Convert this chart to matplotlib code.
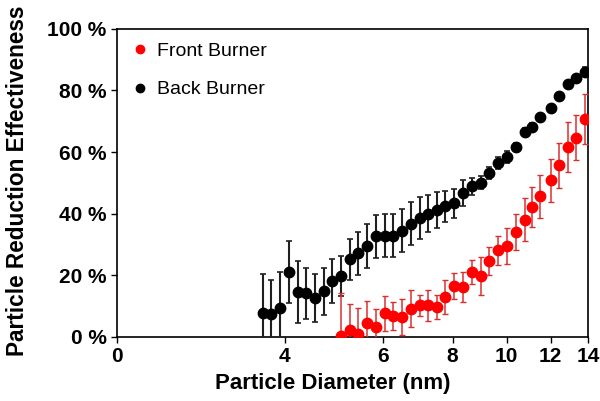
import numpy as np
import matplotlib
matplotlib.use('Agg')
import matplotlib.pyplot as plt
import matplotlib.ticker as ticker
from matplotlib.lines import Line2D

plt.rcParams['font.family'] = ['Liberation Sans', 'DejaVu Sans']

# particle diameters (nm)
d_back = [3.65, 3.78, 3.92, 4.07, 4.22, 4.37, 4.53, 4.70, 4.87, 5.05, 5.23, 5.42, 5.62,
          5.83, 6.04, 6.26, 6.49, 6.73, 6.98, 7.23, 7.50, 7.77, 8.06, 8.35, 8.66, 8.98,
          9.31, 9.65, 10.0, 10.4, 10.8, 11.1, 11.5, 12.0, 12.4, 12.9, 13.3, 13.8]
back = [7.8, 7.3, 9.4, 21.1, 14.5, 14.1, 12.7, 14.8, 18.2, 19.8, 25.2, 27.2, 29.4,
        32.6, 32.9, 32.9, 34.5, 36.7, 38.6, 39.9, 41.2, 42.4, 43.3, 46.7, 48.9, 50.1,
        53.3, 56.5, 58.4, 61.6, 66.5, 68.1, 71.3, 74.3, 78.1, 82.0, 84.0, 86.1]
back_err = [12.5, 11.0, 11.5, 10.0, 10.0, 8.4, 7.8, 7.7, 7.2, 6.5, 6.7, 7.0, 7.2,
            7.0, 6.9, 7.0, 7.0, 7.0, 6.7, 6.0, 5.8, 5.1, 4.7, 4.3, 2.7, 2.2,
            1.9, 1.9, 1.9, 1.4, 1.2, 1.2, 1.0, 1.0, 1.0, 1.0, 1.0, 1.5]

d_front = [5.05, 5.23, 5.42, 5.62, 5.83, 6.04, 6.26, 6.49, 6.73, 6.98, 7.23, 7.50,
           7.77, 8.06, 8.35, 8.66, 8.98, 9.31, 9.65, 10.0, 10.4, 10.8, 11.1, 11.5,
           12.0, 12.4, 12.9, 13.3, 13.8]
front = [0.3, 2.3, 1.0, 4.6, 3.2, 7.6, 6.8, 6.5, 9.2, 10.2, 10.2, 9.7,
         12.9, 16.5, 16.2, 21.1, 19.8, 24.6, 28.1, 29.6, 34.0, 38.1, 42.2, 45.6,
         50.9, 55.7, 61.6, 64.6, 70.7]
front_err = [14.0, 8.4, 8.4, 7.0, 6.0, 5.6, 4.6, 5.8, 6.0, 3.3, 5.0, 4.0,
             5.5, 4.3, 4.9, 4.0, 6.1, 4.5, 4.8, 5.9, 5.9, 7.0, 6.6, 6.9,
             7.0, 7.3, 8.2, 7.3, 8.2]

x_ticks = [2, 4, 6, 8, 10, 12, 14]
x_ticklabels = ['0', '4', '6', '8', '10', '12', '14']
y_ticks = [0, 20, 40, 60, 80, 100]

fig = plt.figure(figsize=(6.0, 4.01), dpi=100)
ax = fig.add_axes([0.195, 0.160, 0.785, 0.768])

ax.errorbar(d_back, back, yerr=back_err, fmt='o', color='black', ecolor='#202020',
            elinewidth=1.5, capsize=2, capthick=1.2, markersize=7.5, zorder=3)
ax.errorbar(d_front, front, yerr=front_err, fmt='o', color='#ff0000', ecolor='#d83030',
            elinewidth=1.1, capsize=2, capthick=1.0, markersize=7.5, zorder=4)

ax.set_xscale('log')
ax.set_xlim(2, 14)
ax.set_ylim(0, 100)
ax.xaxis.set_major_locator(ticker.FixedLocator(x_ticks))
ax.xaxis.set_major_formatter(ticker.FixedFormatter(x_ticklabels))
ax.xaxis.set_minor_locator(ticker.NullLocator())
ax.set_yticks(y_ticks)
ax.set_yticklabels([f'{v} %' for v in y_ticks])
ax.tick_params(direction='out', length=4, width=1, labelsize=15)
for lab in ax.get_xticklabels() + ax.get_yticklabels():
    lab.set_fontweight('bold')
for s in ax.spines.values():
    s.set_linewidth(1.2)

handles = [Line2D([], [], ls='none', marker='o', color='#ff0000', markersize=6),
           Line2D([], [], ls='none', marker='o', color='black', markersize=6)]
ax.legend(handles, ['Front Burner', 'Back Burner'], loc='upper left',
          bbox_to_anchor=(0.013, 0.993), frameon=False,
          fontsize=14, handlelength=0.5, handletextpad=0.65, labelspacing=1.05,
          borderaxespad=0.3, borderpad=0.3)

fig.text(333 / 600, 1 - 384 / 401, 'Particle Diameter (nm)', ha='center', va='center',
         fontsize=16, fontweight='bold')
fig.text(18 / 600, 1 - 356 / 401, 'Particle Reduction Effectiveness (%)', rotation=90,
         ha='center', va='bottom', fontsize=16.3, fontweight='bold')

fig.savefig('out.png', dpi=100)
